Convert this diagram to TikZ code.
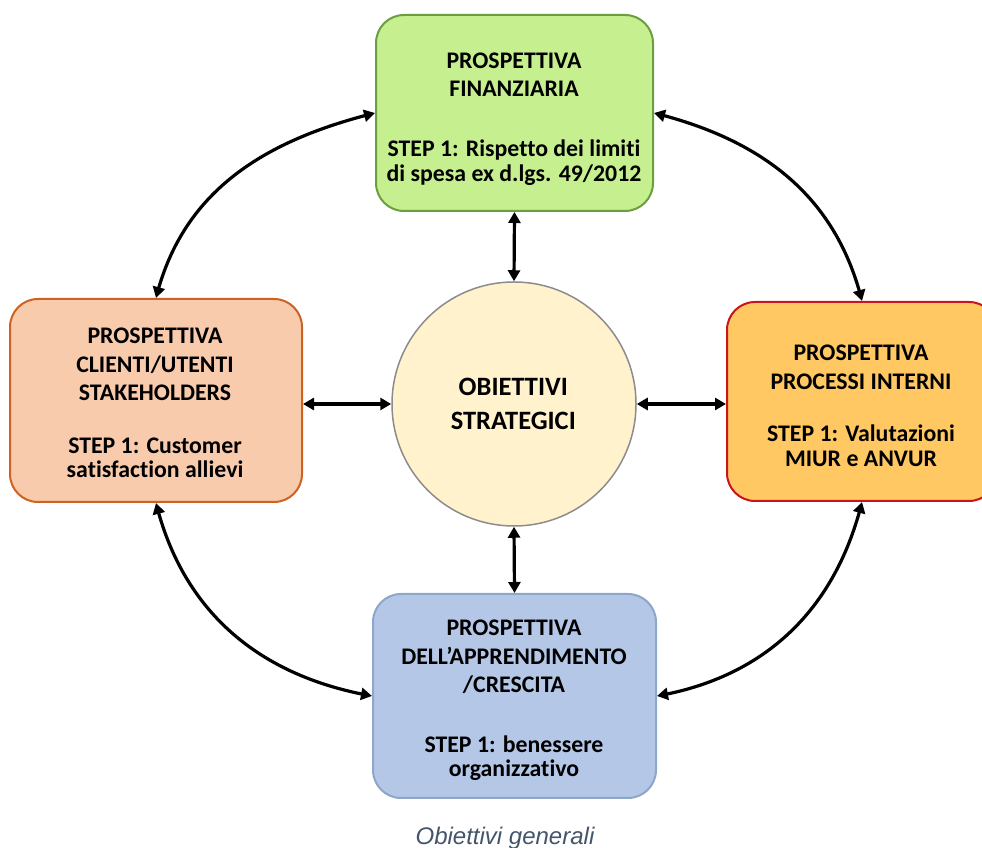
\documentclass[tikz,border=0pt]{standalone}
\usepackage{fontspec}
\setmainfont[Ligatures={NoCommon}]{Carlito}
\newfontfamily\capfont{Liberation Sans}
\usetikzlibrary{arrows.meta,bending}
\definecolor{gfill}{HTML}{C6EF8F}
\definecolor{gdraw}{HTML}{6A9E3E}
\definecolor{lfill}{HTML}{F8CBAD}
\definecolor{ldraw}{HTML}{CE6220}
\definecolor{rfill}{HTML}{FFC863}
\definecolor{rdraw}{HTML}{C8141A}
\definecolor{bfill}{HTML}{B4C7E7}
\definecolor{bdraw}{HTML}{8EA6C8}
\definecolor{cfill}{HTML}{FFF2CC}
\definecolor{cdraw}{HTML}{8C8C8C}
\definecolor{captcol}{HTML}{44546A}
\begin{document}
\begin{tikzpicture}[x=1pt,y=1pt,
  box/.style={rectangle, rounded corners=28pt, line width=2pt, inner sep=0pt},
  lbl/.style={anchor=north, inner sep=0pt, align=center, font=\bfseries\fontsize{23.8}{28.5}\selectfont},
  link/.style={line width=3.2pt, {Triangle[length=11pt,width=12pt]}-{Triangle[length=11pt,width=12pt]}}
]
\useasboundingbox (0,0) rectangle (982,848);
\clip (0,0) rectangle (982,848);
% boxes
\node[box, fill=gfill, draw=gdraw, minimum width=277pt, minimum height=196pt] (top) at (514.5,735) {};
\node[box, fill=lfill, draw=ldraw, minimum width=292pt, minimum height=203pt] (left) at (156,447.5) {};
\node[box, fill=rfill, draw=rdraw, minimum width=270pt, minimum height=199pt] (right) at (862,446.5) {};
\node[box, fill=bfill, draw=bdraw, minimum width=283pt, minimum height=204pt] (bottom) at (514.5,152) {};
\node[circle, fill=cfill, draw=cdraw, line width=1.5pt, minimum size=244pt, inner sep=0pt] (circ) at (514,444) {};
% texts
\node[lbl] (ttop) at (514,795.3) {PROSPETTIVA\\FINANZIARIA\\[31.5pt]STEP 1: Rispetto dei limiti\\[-3.8pt]di spesa ex d.lgs. 49/2012};
\node[lbl] (tleft) at (155,520) {PROSPETTIVA\\CLIENTI/UTENTI\\STAKEHOLDERS\\[24.5pt]STEP 1: Customer\\[-4.5pt]satisfaction allievi};
\node[lbl] (tright) at (861,503) {PROSPETTIVA\\PROCESSI INTERNI\\[23.8pt]STEP 1: Valutazioni\\[-3.5pt]MIUR e ANVUR};
\node[lbl] (tbottom) at (514,228) {PROSPETTIVA\\DELL’APPRENDIMENTO\\/CRESCITA\\[31.5pt]STEP 1: benessere\\[-5pt]organizzativo};
\node[anchor=north, inner sep=0pt, align=center, font=\bfseries\fontsize{26.5}{33.3}\selectfont] (tcirc) at (513.3,469.7) {OBIETTIVI\\STRATEGICI};
\node[anchor=base, inner sep=0pt, text=captcol, font=\capfont\itshape\fontsize{24}{28}\selectfont] (cap) at (505,3) {Obiettivi generali};
% straight links
\draw[link] (top.south) -- (circ.north);
\draw[link] (circ.south) -- (bottom.north);
\draw[link] (left.east |- circ.west) -- (circ.west);
\draw[link] (circ.east) -- (circ.east -| right.west);
% curved links
\draw[link] (top.west) to[out=194, in=76] (left.north);
\draw[link] (top.east) to[out=-14, in=104] (right.north);
\draw[link] (left.south) to[out=-76, in=170] (bottom.west);
\draw[link] (right.south) to[out=256, in=10] (bottom.east);
\end{tikzpicture}
\end{document}
